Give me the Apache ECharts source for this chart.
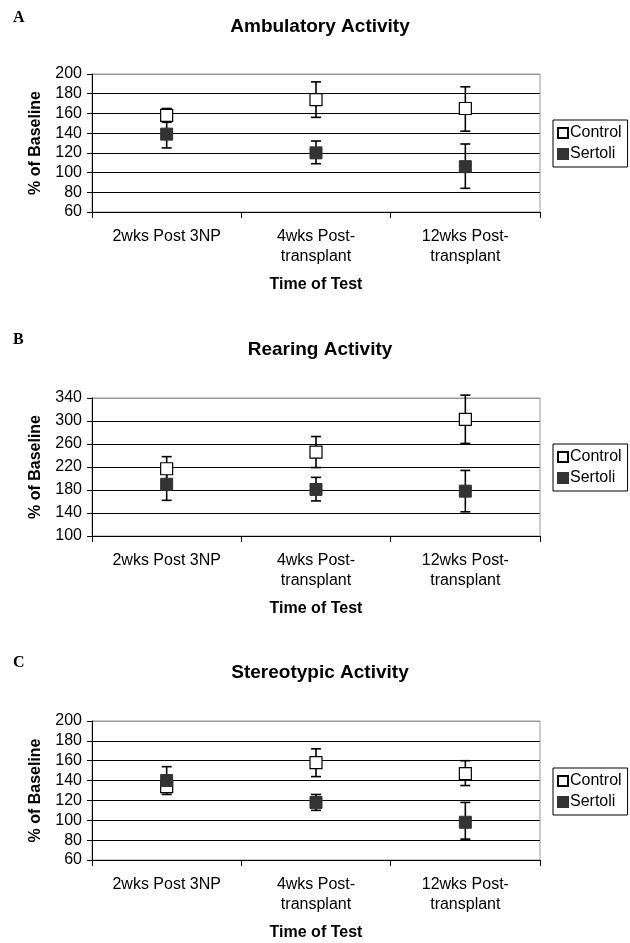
<!DOCTYPE html>
<html><head><meta charset="utf-8">
<script src="https://cdn.jsdelivr.net/npm/echarts@6/dist/echarts.min.js"></script>
<style>html,body{margin:0;padding:0;background:#fff}#c{width:630px;height:943px}</style>
</head><body><div id="c"></div>
<script>
// ---------- data ----------
const categories = ['2wks Post 3NP', '4wks Post-\ntransplant', '12wks Post-\ntransplant'];
const seriesNames = ['Control', 'Sertoli'];
const panelLetters = ['A', 'B', 'C'];
const panelTitles = ['Ambulatory Activity', 'Rearing Activity', 'Stereotypic Activity'];
const yTitle = '% of Baseline';
const xTitle = 'Time of Test';
const yMins = [60, 100, 60];
const yMaxs = [200, 340, 200];
const yIntervals = [20, 40, 20];

// A: Ambulatory
const ambControl = [158, 174, 165];
const ambControlLow = [151, 156, 142];
const ambControlHigh = [165, 192, 187];
const ambSertoli = [139, 120, 106];
const ambSertoliLow = [125, 109, 84];
const ambSertoliHigh = [153, 132, 129];

// B: Rearing
const rearControl = [217, 246, 303];
const rearControlLow = [197, 219, 261];
const rearControlHigh = [238, 273, 345];
const rearSertoli = [190, 181, 178];
const rearSertoliLow = [162, 161, 142];
const rearSertoliHigh = [217, 202, 214];

// C: Stereotypic
const stereoControl = [134, 158, 147];
const stereoControlLow = [128, 144, 135];
const stereoControlHigh = [140, 172, 160];
const stereoSertoli = [140, 118, 98];
const stereoSertoliLow = [126, 110, 81];
const stereoSertoliHigh = [154, 126, 118];

const panels = [
  {control: ambControl, cLow: ambControlLow, cHigh: ambControlHigh, sertoli: ambSertoli, sLow: ambSertoliLow, sHigh: ambSertoliHigh},
  {control: rearControl, cLow: rearControlLow, cHigh: rearControlHigh, sertoli: rearSertoli, sLow: rearSertoliLow, sHigh: rearSertoliHigh},
  {control: stereoControl, cLow: stereoControlLow, cHigh: stereoControlHigh, sertoli: stereoSertoli, sLow: stereoSertoliLow, sHigh: stereoSertoliHigh}
];

// ---------- layout ----------
const FONT = '"Liberation Sans", Arial, sans-serif';
const gridTops = [74, 398, 721];
const gridHeights = [138, 138, 139];
const gridLeft = 92, gridRight = 90;
const titleYs = [27, 350, 673];
const letterYs = [18, 340, 663];
const legendTops = [120, 444, 768];

const chart = echarts.init(document.getElementById('c'), null, {renderer: 'canvas'});

function errorRender(params, api) {
  const x = api.value(0);
  const lo = api.coord([x, api.value(1)]);
  const hi = api.coord([x, api.value(2)]);
  const cap = 5;
  const style = {stroke: '#000', lineWidth: 1.6};
  return {
    type: 'group',
    children: [
      {type: 'line', shape: {x1: lo[0], y1: lo[1], x2: hi[0], y2: hi[1]}, style},
      {type: 'line', shape: {x1: lo[0] - cap, y1: lo[1], x2: lo[0] + cap, y2: lo[1]}, style},
      {type: 'line', shape: {x1: hi[0] - cap, y1: hi[1], x2: hi[0] + cap, y2: hi[1]}, style}
    ]
  };
}

const grid = [], xAxis = [], yAxis = [], series = [], legend = [], graphic = [];

panels.forEach((p, i) => {
  grid.push({left: gridLeft, right: gridRight, top: gridTops[i], height: gridHeights[i],
    show: true, borderColor: '#999', borderWidth: 1, backgroundColor: 'transparent'});
  xAxis.push({
    type: 'category', gridIndex: i, data: categories, boundaryGap: true,
    name: xTitle, nameLocation: 'middle', nameGap: 65,
    nameTextStyle: {fontFamily: FONT, fontWeight: 'bold', fontSize: 16, color: '#000'},
    axisLine: {show: true, lineStyle: {color: '#000', width: 1}},
    axisTick: {show: true, interval: 0, length: 6, lineStyle: {color: '#000'}},
    axisLabel: {interval: 0, margin: 15, fontFamily: FONT, fontSize: 16, color: '#000', lineHeight: 20},
    splitLine: {show: false}
  });
  const nTicks = Math.round((yMaxs[i] - yMins[i]) / yIntervals[i]) + 1;
  const splitColors = [];
  for (let k = 0; k < nTicks; k++) splitColors.push(k === nTicks - 1 ? '#999' : '#000');
  yAxis.push({
    type: 'value', gridIndex: i, min: yMins[i], max: yMaxs[i], interval: yIntervals[i],
    name: yTitle, nameLocation: 'middle', nameGap: 48, nameRotate: 90,
    nameTextStyle: {fontFamily: FONT, fontWeight: 'bold', fontSize: 16, color: '#000'},
    axisLine: {show: true, lineStyle: {color: '#000', width: 1}},
    axisTick: {show: true, length: 5, lineStyle: {color: '#000'}},
    axisLabel: {margin: 10, fontFamily: FONT, fontSize: 16, color: '#000'},
    splitLine: {show: true, lineStyle: {color: splitColors, width: 1}}
  });
  const cErr = categories.map((c, k) => [k, p.cLow[k], p.cHigh[k]]);
  const sErr = categories.map((c, k) => [k, p.sLow[k], p.sHigh[k]]);
  series.push({type: 'custom', name: 'ctrlErr', xAxisIndex: i, yAxisIndex: i, data: cErr,
    renderItem: errorRender, encode: {x: 0, y: [1, 2]}, z: 1, silent: true});
  series.push({type: 'custom', name: 'sertErr', xAxisIndex: i, yAxisIndex: i, data: sErr,
    renderItem: errorRender, encode: {x: 0, y: [1, 2]}, z: 1, silent: true});
  series.push({type: 'scatter', name: seriesNames[0], xAxisIndex: i, yAxisIndex: i,
    data: p.control, symbol: 'rect', symbolSize: 12, z: 3,
    itemStyle: {color: '#fff', borderColor: '#000', borderWidth: 1.2, opacity: 1}});
  series.push({type: 'scatter', name: seriesNames[1], xAxisIndex: i, yAxisIndex: i,
    data: p.sertoli, symbol: 'rect', symbolSize: 12, z: 4,
    itemStyle: {color: '#333', borderColor: '#333', borderWidth: 1, opacity: 1}});
  legend.push({
    data: seriesNames, orient: 'vertical', left: 553, top: legendTops[i],
    width: 75, padding: [4, 6, 4, 4], itemGap: 3, itemWidth: 10, itemHeight: 10,
    borderColor: '#000', borderWidth: 1, icon: 'rect',
    textStyle: {fontFamily: FONT, fontSize: 16, lineHeight: 18, color: '#000', padding: [0, 0, 0, -3]},
    selectedMode: false
  });
  graphic.push({type: 'text', x: 320, y: titleYs[i],
    style: {text: panelTitles[i], font: 'bold 19px ' + FONT, fill: '#000', textAlign: 'center', textVerticalAlign: 'middle'}});
  graphic.push({type: 'text', x: 13, y: letterYs[i],
    style: {text: panelLetters[i], font: 'bold 16px "Liberation Serif", "Times New Roman", serif', fill: '#000', textVerticalAlign: 'middle'}});
});

chart.setOption({
  animation: false,
  backgroundColor: '#fff',
  grid, xAxis, yAxis, series, legend, graphic
});
</script>
</body></html>
